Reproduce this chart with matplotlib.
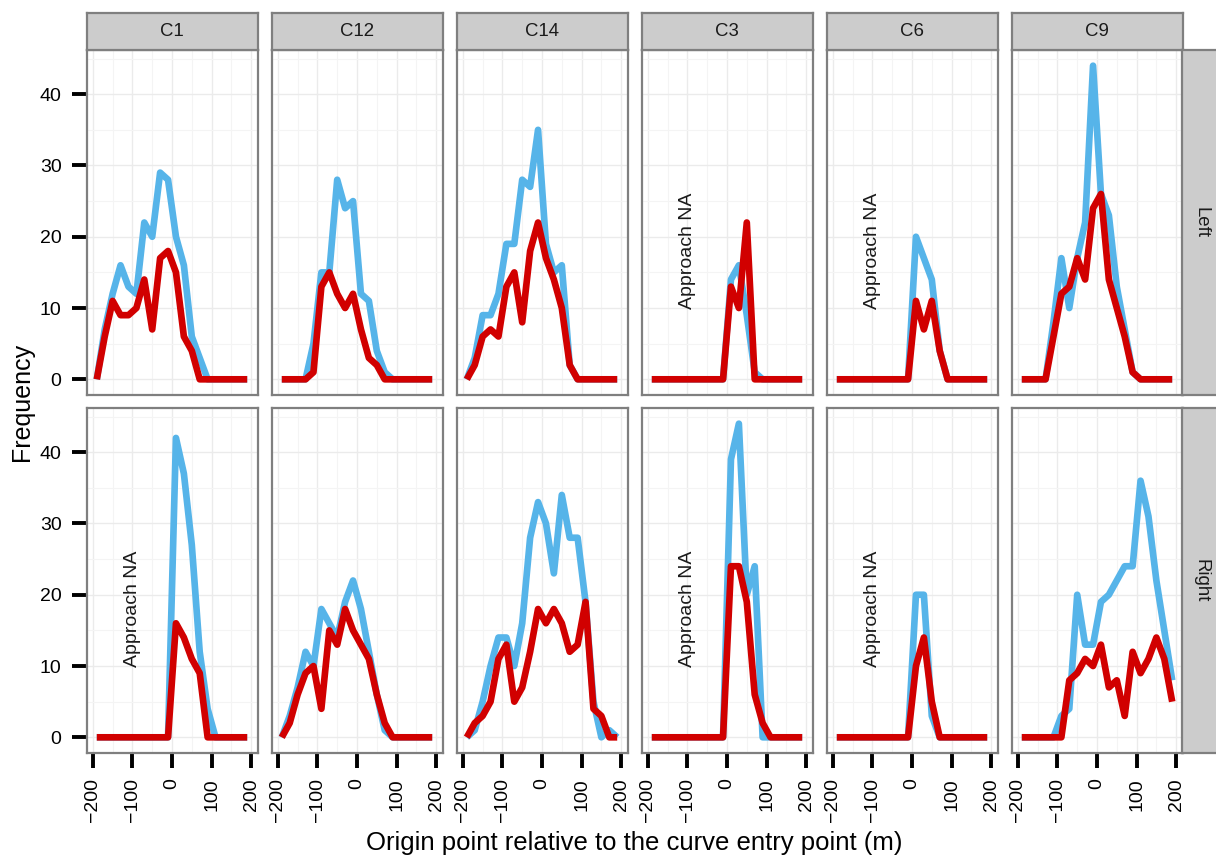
import numpy as np
import matplotlib
matplotlib.use("Agg")
import matplotlib.pyplot as plt
from matplotlib.ticker import MultipleLocator

plt.rcParams['font.family'] = ['Liberation Sans', 'DejaVu Sans']
plt.rcParams['axes.unicode_minus'] = True

# bin centres (m), origin point relative to curve entry
dist = [-190, -170, -150, -130, -110, -90, -70, -50, -30, -10,
        10, 30, 50, 70, 90, 110, 130, 150, 170, 190]

curves = ["C1", "C12", "C14", "C3", "C6", "C9"]
sides = ["Left", "Right"]

# blue = all origins, red = second series
c1_left_blue = [0, 7, 12, 16, 13, 12, 22, 20, 29, 28, 20, 16, 6, 3, 0, 0, 0, 0, 0, 0]
c1_left_red = [0, 6, 11, 9, 9, 10, 14, 7, 17, 18, 15, 6, 4, 0, 0, 0, 0, 0, 0, 0]
c12_left_blue = [0, 0, 0, 0, 5, 15, 15, 28, 24, 25, 12, 11, 4, 1, 0, 0, 0, 0, 0, 0]
c12_left_red = [0, 0, 0, 0, 1, 13, 15, 12, 10, 12, 7, 3, 2, 0, 0, 0, 0, 0, 0, 0]
c14_left_blue = [0, 3, 9, 9, 12, 19, 19, 28, 27, 35, 19, 15, 16, 2, 0, 0, 0, 0, 0, 0]
c14_left_red = [0, 2, 6, 7, 6, 13, 15, 8, 18, 22, 17, 14, 10, 2, 0, 0, 0, 0, 0, 0]
c3_left_blue = [0, 0, 0, 0, 0, 0, 0, 0, 0, 0, 14, 16, 9, 1, 0, 0, 0, 0, 0, 0]
c3_left_red = [0, 0, 0, 0, 0, 0, 0, 0, 0, 0, 13, 10, 22, 0, 0, 0, 0, 0, 0, 0]
c6_left_blue = [0, 0, 0, 0, 0, 0, 0, 0, 0, 0, 20, 17, 14, 4, 0, 0, 0, 0, 0, 0]
c6_left_red = [0, 0, 0, 0, 0, 0, 0, 0, 0, 0, 11, 7, 11, 4, 0, 0, 0, 0, 0, 0]
c9_left_blue = [0, 0, 0, 0, 8, 17, 10, 17, 22, 44, 26, 23, 13, 7, 1, 0, 0, 0, 0, 0]
c9_left_red = [0, 0, 0, 0, 6, 12, 13, 17, 14, 24, 26, 14, 10, 6, 1, 0, 0, 0, 0, 0]

c1_right_blue = [0, 0, 0, 0, 0, 0, 0, 0, 0, 0, 42, 37, 27, 12, 4, 0, 0, 0, 0, 0]
c1_right_red = [0, 0, 0, 0, 0, 0, 0, 0, 0, 0, 16, 14, 11, 9, 0, 0, 0, 0, 0, 0]
c12_right_blue = [0, 3, 7, 12, 10, 18, 16, 14, 19, 22, 18, 12, 6, 1, 0, 0, 0, 0, 0, 0]
c12_right_red = [0, 2, 6, 9, 10, 4, 15, 13, 18, 15, 13, 11, 6, 2, 0, 0, 0, 0, 0, 0]
c14_right_blue = [0, 1, 5, 10, 14, 14, 10, 16, 28, 33, 30, 23, 34, 28, 28, 19, 5, 0, 1, 0]
c14_right_red = [0, 2, 3, 5, 11, 13, 5, 7, 12, 18, 16, 18, 16, 12, 13, 19, 4, 3, 0, 0]
c3_right_blue = [0, 0, 0, 0, 0, 0, 0, 0, 0, 0, 39, 44, 20, 24, 0, 0, 0, 0, 0, 0]
c3_right_red = [0, 0, 0, 0, 0, 0, 0, 0, 0, 0, 24, 24, 19, 6, 2, 0, 0, 0, 0, 0]
c6_right_blue = [0, 0, 0, 0, 0, 0, 0, 0, 0, 0, 20, 20, 3, 0, 0, 0, 0, 0, 0, 0]
c6_right_red = [0, 0, 0, 0, 0, 0, 0, 0, 0, 0, 10, 14, 5, 0, 0, 0, 0, 0, 0, 0]
c9_right_blue = [0, 0, 0, 0, 0, 3, 4, 20, 13, 13, 19, 20, 22, 24, 24, 36, 31, 22, 15, 8]
c9_right_red = [0, 0, 0, 0, 0, 0, 8, 9, 11, 10, 13, 7, 8, 3, 12, 9, 11, 14, 11, 5]

series = {
    ("C1", "Left"): (c1_left_blue, c1_left_red),
    ("C12", "Left"): (c12_left_blue, c12_left_red),
    ("C14", "Left"): (c14_left_blue, c14_left_red),
    ("C3", "Left"): (c3_left_blue, c3_left_red),
    ("C6", "Left"): (c6_left_blue, c6_left_red),
    ("C9", "Left"): (c9_left_blue, c9_left_red),
    ("C1", "Right"): (c1_right_blue, c1_right_red),
    ("C12", "Right"): (c12_right_blue, c12_right_red),
    ("C14", "Right"): (c14_right_blue, c14_right_red),
    ("C3", "Right"): (c3_right_blue, c3_right_red),
    ("C6", "Right"): (c6_right_blue, c6_right_red),
    ("C9", "Right"): (c9_right_blue, c9_right_red),
}
no_approach = [("C3", "Left"), ("C6", "Left"), ("C1", "Right"), ("C3", "Right"), ("C6", "Right")]

BLUE = "#56B4E9"
RED = "#D10000"
EDGE = "#7F7F7F"
STRIP = "#CCCCCC"

W, H = 1216, 859
fig = plt.figure(figsize=(W / 100, H / 100), dpi=100)


def box(x0, y0, x1, y1):
    return [x0 / W, 1 - y1 / H, (x1 - x0) / W, (y1 - y0) / H]


col_left = [86.5 + 185 * i for i in range(6)]
pw = 171
rows = [(50, 395), (408, 753)]

for r, side in enumerate(sides):
    y0, y1 = rows[r]
    for c, curve in enumerate(curves):
        x0 = col_left[c]
        ax = fig.add_axes(box(x0, y0, x0 + pw, y1))
        blue, red = series[(curve, side)]
        ax.plot(dist, blue, color=BLUE, lw=4.8, solid_joinstyle="round", solid_capstyle="butt")
        ax.plot(dist, red, color=RED, lw=4.8, solid_joinstyle="round", solid_capstyle="butt")
        if (curve, side) in no_approach:
            ax.text(-100, 18, "Approach NA", rotation=90, ha="center", va="center",
                    fontsize=14, color="#1a1a1a")
        ax.set_xlim(-216, 216)
        ax.set_ylim(-2.2, 46.2)
        ax.xaxis.set_major_locator(MultipleLocator(100))
        ax.xaxis.set_minor_locator(MultipleLocator(50))
        ax.yaxis.set_major_locator(MultipleLocator(10))
        ax.yaxis.set_minor_locator(MultipleLocator(5))
        ax.grid(which="major", color="#EBEBEB", lw=1.0)
        ax.grid(which="minor", color="#F4F4F4", lw=0.8)
        ax.set_axisbelow(True)
        for sp in ax.spines.values():
            sp.set_color(EDGE)
            sp.set_linewidth(1.6)
        ax.tick_params(which="minor", length=0)
        ax.tick_params(which="major", length=11, width=2.8, color="black",
                       labelsize=14, pad=7)
        ax.tick_params(axis="x", labelrotation=90)
        if r == 0:
            ax.tick_params(axis="x", bottom=False, labelbottom=False)
        if c > 0:
            ax.tick_params(axis="y", left=False, labelleft=False)

        if r == 0:
            sx = fig.add_axes(box(x0, 13, x0 + pw, 50))
            sx.set_facecolor(STRIP)
            sx.set_xticks([])
            sx.set_yticks([])
            for sp in sx.spines.values():
                sp.set_color(EDGE)
                sp.set_linewidth(1.6)
            sx.text(0.5, 0.5, curve, ha="center", va="center", fontsize=13.4,
                    color="#1a1a1a", transform=sx.transAxes)

    # row strip on the right
    rx = fig.add_axes(box(1182, y0, 1222, y1))
    rx.set_facecolor(STRIP)
    rx.set_xticks([])
    rx.set_yticks([])
    for sp in rx.spines.values():
        sp.set_color(EDGE)
        sp.set_linewidth(1.6)
    fig.text(1200.5 / W, 1 - (y0 + y1) / 2 / H, side, rotation=270, ha="center",
             va="center", fontsize=13.4, color="#1a1a1a")

fig.text(634 / W, 1 - 843 / H, "Origin point relative to the curve entry point (m)",
         ha="center", va="center", fontsize=18.5)
fig.text(22 / W, 1 - 402 / H, "Frequency", rotation=90, ha="center", va="center", fontsize=18)

fig.savefig("out.png", dpi=100)
